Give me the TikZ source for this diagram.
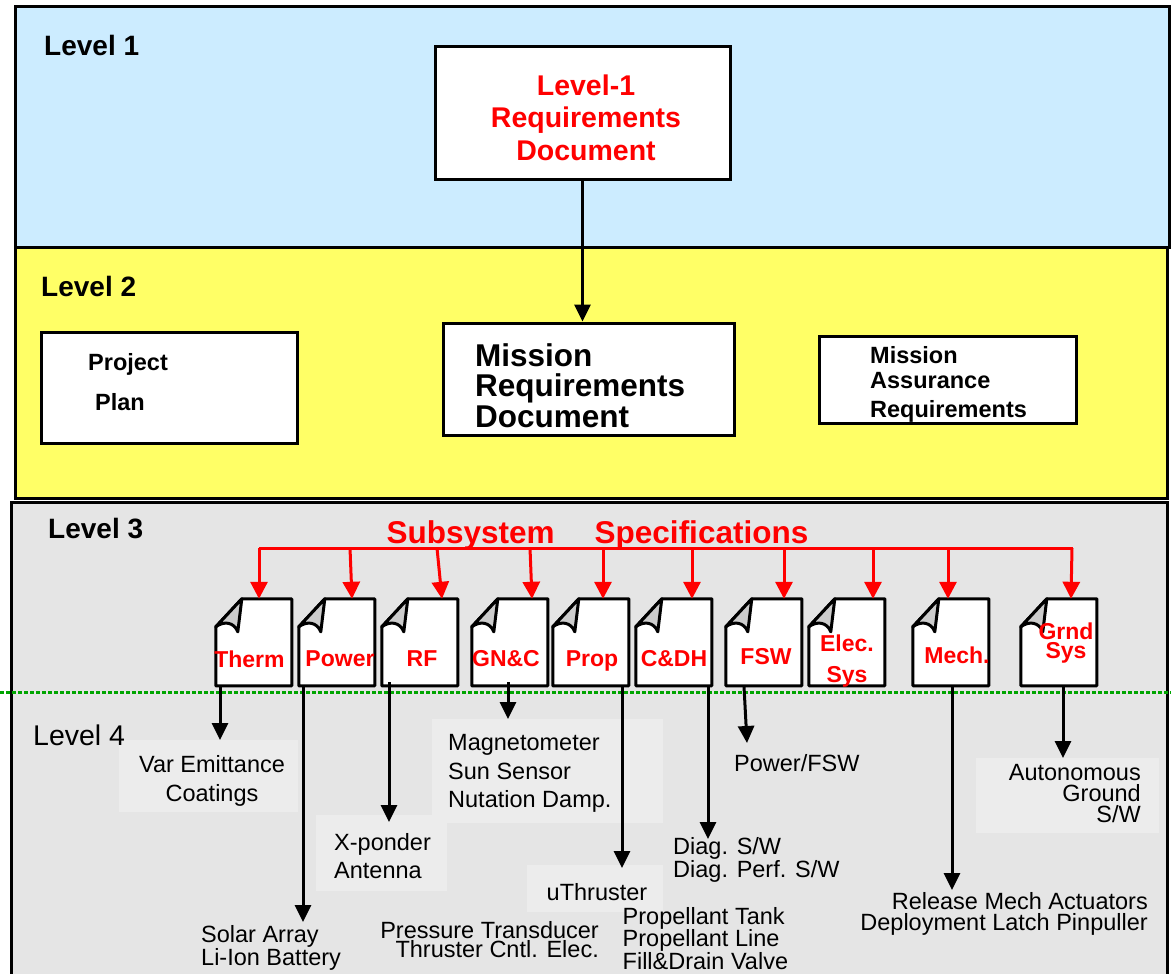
\documentclass[tikz,border=0pt]{standalone}
\usepackage{fontspec}
\setmainfont{Liberation Sans}
\usetikzlibrary{arrows.meta}

\definecolor{lvlblue}{RGB}{204,236,255}
\definecolor{lvlyellow}{RGB}{255,255,102}
\definecolor{lvlgray}{RGB}{229,229,229}
\definecolor{itemgray}{RGB}{236,236,236}
\definecolor{flapgray}{RGB}{204,204,204}
\definecolor{specred}{RGB}{255,0,0}
\definecolor{sepgreen}{RGB}{0,165,0}

\newcommand{\fsz}[2]{\fontsize{#1}{#2}\selectfont}

% document icon with a curled top-left corner, drawn on a named node
\newcommand{\foldeddoc}[1]{%
  \begin{scope}[shift={(#1.north west)}]
    \filldraw[docline, fill=white] (26,0) -- (76,0) -- (76,87) -- (0,87) -- (0,28) -- cycle;
    \filldraw[docline, fill=flapgray] (0,28) -- (26,0) -- (22,33)
      .. controls (18,23) and (8,22) .. (0,28) -- cycle;
  \end{scope}}

\tikzset{
  levelbox/.style={draw=black, line width=3pt},
  lvltitle/.style={font=\fsz{28}{33}\bfseries, inner sep=0pt, anchor=west},
  whitebox/.style={draw=black, fill=white, line width=3pt, inner sep=0pt},
  docline/.style={draw=black, line width=3pt, line join=round},
  docbox/.style={minimum width=76pt, minimum height=87pt, inner sep=0pt, draw=none},
  doclabel/.style={text=specred, font=\fsz{23}{27}\bfseries, inner sep=0pt, align=center},
  specarrow/.style={draw=specred, line width=3pt, -{Triangle[width=17pt,length=17pt]}},
  specline/.style={draw=specred, line width=3pt},
  itemarrow/.style={draw=black, line width=3pt, -{Triangle[width=16pt,length=17pt]}},
  itembox/.style={fill=itemgray, draw=none, inner sep=0pt},
  itemtext/.style={font=\fsz{23.5}{28}, inner sep=0pt},
}

\begin{document}
\begin{tikzpicture}[x=1pt, y=-1pt]
\useasboundingbox (0,0) rectangle (1171,974);
\fill[white] (0,0) rectangle (1171,974);

% ---- level bands
\filldraw[levelbox, fill=lvlblue]   (15,7)    rectangle (1169,247);
\filldraw[levelbox, fill=lvlyellow] (15,247)  rectangle (1167,498);
\filldraw[levelbox, fill=lvlgray]   (11,502)  rectangle (1167,995);

\node[lvltitle] (lv1) at (44,45)  {Level 1};
\node[lvltitle] (lv2) at (41,286) {Level 2};
\node[lvltitle] (lv3) at (48,529) {Level 3};

% ---- level 1 and level 2 documents
\node[whitebox, minimum width=295pt, minimum height=132pt] (l1doc) at (582.5,113) {};
\node[text=specred, font=\fsz{28.5}{32.5}\bfseries, align=center, inner sep=0pt]
  (l1doc-t) at (586,117.5) {Level-1\\Requirements\\Document};

\node[whitebox, minimum width=291pt, minimum height=112pt] (mrd) at (588.5,379) {};
\node[font=\fsz{31.5}{30.5}\bfseries, align=left, inner sep=0pt, anchor=west]
  (mrd-t) at (475,385.5) {Mission\\Requirements\\Document};

\node[whitebox, minimum width=256pt, minimum height=111pt] (pplan) at (169,387.5) {};
\node[font=\fsz{23.5}{40}\bfseries, align=left, inner sep=0pt, anchor=west]
  (pplan-t) at (88,382) {Project\\\hspace*{7pt}Plan};

\node[whitebox, minimum width=257pt, minimum height=87pt] (mar) at (947.5,379.5) {};
\node[font=\fsz{23.5}{25}\bfseries, align=left, inner sep=0pt, anchor=west]
  (mar-t) at (870,384.5) {Mission\\Assurance\\[4pt]Requirements};

\draw[itemarrow] (l1doc.south) -- (l1doc.south |- mrd.north);

% ---- subsystem specifications
\coordinate (barL) at (259,548);
\coordinate (barR) at (1073,548);
\draw[specline] (barL) -- (barR);
\node[text=specred, font=\fsz{31.5}{36}\bfseries, inner sep=0pt]
  (subsys) at (597.5,535) {Subsystem\hspace{40pt}Specifications};

\node[docbox] (therm) at (254,642.5)  {};
\node[docbox] (power) at (337,642.5)  {};
\node[docbox] (rf)    at (420,642.5)  {};
\node[docbox] (gnc)   at (510,642.5)  {};
\node[docbox] (prop)  at (591,642.5)  {};
\node[docbox] (cdh)   at (674,642.5)  {};
\node[docbox] (fsw)   at (764,642.5)  {};
\node[docbox] (elec)  at (847,642.5)  {};
\node[docbox] (mech)  at (951,642.5)  {};
\node[docbox] (grnd)  at (1059,642.5) {};

\foreach \d in {therm,power,rf,gnc,prop,cdh,fsw,elec,mech,grnd} {\foldeddoc{\d}}

\node[doclabel] (therm-t) at (249.5,659) {Therm};
\node[doclabel] (power-t) at (340,659)   {Power};
\node[doclabel] (rf-t)    at (422,659)   {RF};
\node[doclabel] (gnc-t)   at (506,659)   {GN\&C};
\node[doclabel] (prop-t)  at (592,661)   {Prop};
\node[doclabel] (cdh-t)   at (674,659)   {C\&DH};
\node[doclabel] (fsw-t)   at (766,657)   {FSW};
\node[doclabel, font=\fsz{23}{31}\bfseries] (elec-t) at (847,661) {Elec.\\Sys};
\node[doclabel] (mech-t)  at (957,655)   {Mech.};
\node[doclabel, font=\fsz{23}{19}\bfseries] (grnd-t) at (1066,643) {Grnd\\Sys};

% drops from the specification bar to each document
\foreach \d/\xt/\xs in {therm/259/5, power/350/15, rf/437/22, gnc/530/22, prop/603/12,
                        cdh/692/18, fsw/784/20, elec/873/26, mech/948/-3, grnd/1072/12} {
  \coordinate (\d-drop) at (\xt,548);
  \draw[specarrow] (\d-drop) -- ([xshift=\xs pt]\d.north);
}

% ---- level 3 / level 4 separator
\draw[sepgreen, line width=3pt, dash pattern=on 4pt off 2pt] (0,692) -- (1171,692);

% ---- level 4 item panels
\node[itembox, minimum width=179pt, minimum height=72pt,  anchor=north west] (varbox)   at (119,740) {};
\node[itembox, minimum width=131pt, minimum height=76pt,  anchor=north west] (xpbox)    at (316,815) {};
\node[itembox, minimum width=231pt, minimum height=104pt, anchor=north west] (magbox)   at (432,719) {};
\node[itembox, minimum width=136pt, minimum height=47pt,  anchor=north west] (uthbox)   at (527,865) {};
\node[itembox, minimum width=183pt, minimum height=75pt,  anchor=north west] (autobox)  at (976,758) {};

\node[lvltitle, font=\fsz{28.5}{33}] (lv4) at (33,735) {Level 4};

% ---- connectors from the subsystem documents to level 4 items
\coordinate (therm-out) at ([xshift=-34pt]therm.south);
\coordinate (power-out) at ([xshift=-34pt]power.south);
\coordinate (rf-out)    at ([xshift=-31pt, yshift=4pt]rf.south);
\coordinate (gnc-out)   at ([xshift=-2pt, yshift=4pt]gnc.south);
\coordinate (prop-out)  at ([xshift=31pt]prop.south);
\coordinate (cdh-out)   at ([xshift=34pt]cdh.south);
\coordinate (fsw-out)   at ([xshift=-20pt]fsw.south);
\coordinate (mech-out)  at ([xshift=1pt]mech.south);
\coordinate (grnd-out)  at ([xshift=4pt]grnd.south);

\coordinate (solar-in)   at (303,922);
\coordinate (xp-in)      at (389,822);
\coordinate (diag-in)    at (708,839);
\coordinate (pfsw-in)    at (747,743);
\coordinate (release-in) at (952,890);

\draw[itemarrow] (therm-out) -- (therm-out |- varbox.north);
\draw[itemarrow] (power-out) -- (solar-in);
\draw[itemarrow] (rf-out)    -- (xp-in);
\draw[itemarrow] (gnc-out)   -- (gnc-out |- magbox.north);
\draw[itemarrow] (prop-out)  -- ([yshift=-3pt]prop-out |- uthbox.north);
\draw[itemarrow] (cdh-out)   -- (diag-in);
\draw[itemarrow] (fsw-out)   -- (pfsw-in);
\draw[itemarrow] (mech-out)  -- (release-in);
\draw[itemarrow] (grnd-out)  -- (grnd-out |- autobox.north);

% ---- level 4 texts
\node[itemtext, align=center, font=\fsz{23.5}{29}] (varem) at (212,780.5) {Var Emittance\\Coatings};
\node[itemtext, align=left, anchor=west, font=\fsz{23.5}{19}] (solar) at (201,947.5) {Solar Array\\Li-Ion Battery};
\node[itemtext, align=left, anchor=west, font=\fsz{23.5}{28}] (xponder) at (334,856) {X-ponder\\Antenna};
\node[itemtext, align=left, anchor=west, font=\fsz{23.5}{28.5}] (magneto) at (448,773.5) {Magnetometer\\Sun Sensor\\Nutation Damp.};
\node[itemtext] (uthr) at (597,892) {uThruster};
\node[itemtext, align=right, anchor=east, font=\fsz{23.5}{19}] (press) at (599,939.5) {Pressure Transducer\\Thruster Cntl. Elec.};
\node[itemtext, align=left, anchor=west, font=\fsz{23.5}{20.5}] (propel) at (622.5,938.5) {Propellant Tank\\Propellant Line\\Fill\&Drain Valve};
\node[itemtext, align=left, anchor=west, font=\fsz{23.5}{21}] (diag) at (673,859.5) {Diag. S/W\\Diag. Perf. S/W};
\node[itemtext, anchor=west] (pfsw) at (734,763) {Power/FSW};
\node[itemtext, align=right, anchor=east, font=\fsz{23.5}{21}] (release) at (1148,913.5) {Release Mech Actuators\\Deployment Latch Pinpuller};
\node[itemtext, align=right, anchor=east, font=\fsz{23.5}{21}] (auton) at (1141,794) {Autonomous\\Ground\\S/W};

\end{tikzpicture}
\end{document}
